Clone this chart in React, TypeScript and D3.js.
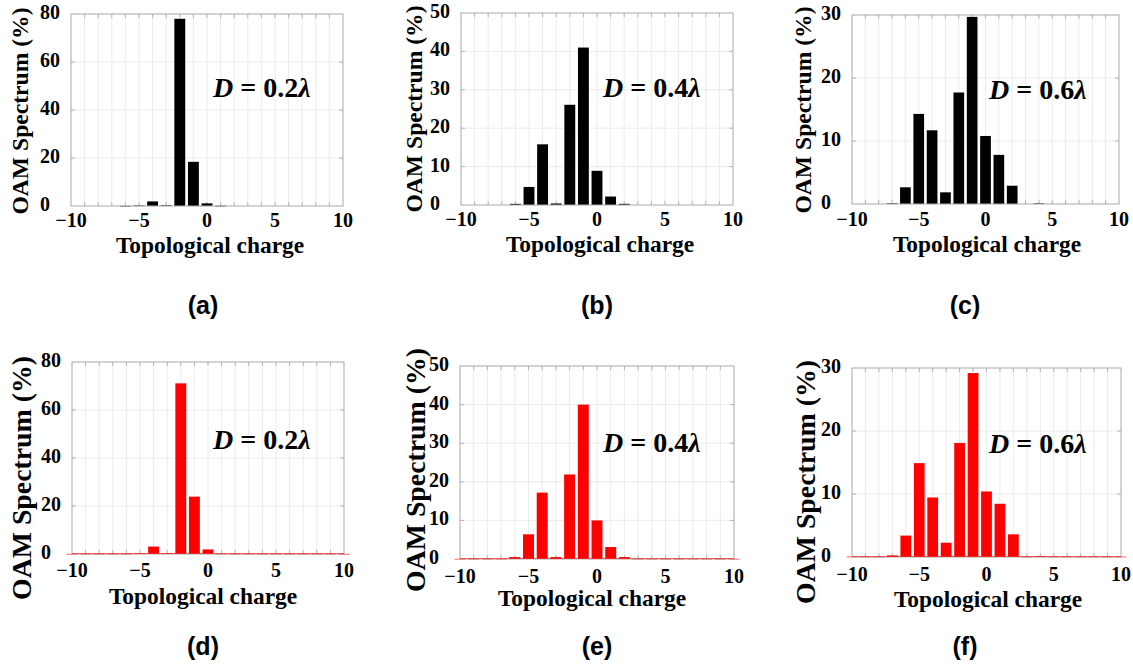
import React from "react";
import * as d3 from "d3";

// Topological charges shared by every spectrum
const CHARGES = [-10, -9, -8, -7, -6, -5, -4, -3, -2, -1, 0, 1, 2, 3, 4, 5, 6, 7, 8, 9, 10];

// OAM spectrum (%) per charge, first row (black) and second row (red)
const SPECTRUM_A = [0, 0, 0, 0, 0.05, 0.2, 1.9, 0.3, 78, 18.4, 1.1, 0.1, 0, 0, 0, 0, 0, 0, 0, 0, 0];
const SPECTRUM_B = [0, 0, 0, 0, 0.3, 4.7, 15.8, 0.4, 26.1, 41, 8.9, 2.2, 0.3, 0, 0, 0, 0, 0, 0, 0, 0];
const SPECTRUM_C = [0, 0, 0, 0.1, 2.65, 14.3, 11.7, 1.85, 17.7, 29.7, 10.8, 7.8, 2.9, 0, 0.1, 0, 0, 0, 0, 0, 0];
const SPECTRUM_D = [0.05, 0.05, 0.05, 0.05, 0.05, 0.2, 3.1, 0.3, 71.1, 23.9, 1.9, 0.1, 0.05, 0.05, 0.05, 0.05, 0.05, 0.05, 0.05, 0.05, 0.05];
const SPECTRUM_E = [0.05, 0.05, 0.05, 0.05, 0.5, 6.4, 17.2, 0.5, 21.9, 40, 10, 3.1, 0.5, 0.05, 0.05, 0.05, 0.05, 0.05, 0.05, 0.05, 0.05];
const SPECTRUM_F = [0.05, 0.05, 0.05, 0.26, 3.4, 14.9, 9.45, 2.27, 18.1, 29.2, 10.4, 8.45, 3.6, 0.05, 0.15, 0.05, 0.05, 0.05, 0.05, 0.05, 0.05];

const X_TICKS = [-10, -5, 0, 5, 10];
const Y_TICKS_80 = [0, 20, 40, 60, 80];
const Y_TICKS_50 = [0, 10, 20, 30, 40, 50];
const Y_TICKS_30 = [0, 10, 20, 30];

const D_VALUES = ["0.2", "0.4", "0.6"];
const TAGS = ["(a)", "(b)", "(c)", "(d)", "(e)", "(f)"];
const X_TITLE = "Topological charge";
const Y_TITLE = "OAM Spectrum (%)";

const SERIF = "'Liberation Serif', 'Times New Roman', Times, serif";
const SANS = "'Liberation Sans', Arial, Helvetica, sans-serif";

type Frame = {
  L: number; R: number; T: number; B: number;
  tickDy: number;
  xTitleX: number; xTitleY: number;
  yTitleX: number; yTitleY: number; yTitleSize: number;
  dX: number; dY: number;
  tagX: number; tagY: number;
};

type PanelProps = {
  frame: Frame;
  values: number[];
  color: string;
  yTicks: number[];
  dValue: string;
  tag: string;
  baseline: boolean;
};

function Panel({ frame, values, color, yTicks, dValue, tag, baseline }: PanelProps) {
  const { L, R, T, B } = frame;
  const x = d3.scaleLinear().domain([-10, 10]).range([L, R]);
  const y = d3.scaleLinear().domain([0, yTicks[yTicks.length - 1]]).range([B, T]);
  const unit = x(1) - x(0);
  const barW = unit * 0.8;
  const minor = CHARGES.filter((c) => c > -10 && c < 10);

  return (
    <g>
      <rect x={L} y={T} width={R - L} height={B - T} fill="#ffffff" />
      {/* grid */}
      {minor.map((c) => (
        <line key={"gx" + c} x1={x(c)} x2={x(c)} y1={T} y2={B} stroke="#ececec" strokeWidth={1} />
      ))}
      {yTicks.slice(1, -1).map((v) => (
        <line key={"gy" + v} x1={L} x2={R} y1={y(v)} y2={y(v)} stroke="#ececec" strokeWidth={1} />
      ))}
      {/* minor ticks along top and bottom */}
      {minor.map((c) => (
        <g key={"t" + c}>
          <line x1={x(c)} x2={x(c)} y1={T} y2={T + 4} stroke="#b5b5b5" strokeWidth={1} />
          <line x1={x(c)} x2={x(c)} y1={B} y2={B - 4} stroke="#b5b5b5" strokeWidth={1} />
        </g>
      ))}
      {yTicks.slice(1, -1).map((v) => (
        <g key={"ty" + v}>
          <line x1={L} x2={L + 4} y1={y(v)} y2={y(v)} stroke="#b5b5b5" strokeWidth={1} />
          <line x1={R} x2={R - 4} y1={y(v)} y2={y(v)} stroke="#b5b5b5" strokeWidth={1} />
        </g>
      ))}
      {/* bars */}
      {CHARGES.map((c, i) => {
        const v = values[i];
        if (v <= 0) return null;
        const top = y(v);
        return (
          <rect
            key={"b" + c}
            x={x(c) - barW / 2}
            y={top}
            width={barW}
            height={Math.max(B - top, 0.6)}
            fill={color}
          />
        );
      })}
      {/* axes box */}
      <rect x={L} y={T} width={R - L} height={B - T} fill="none" stroke="#a8a8a8" strokeWidth={1} />
      {baseline && (
        <line x1={L} x2={R} y1={B - 0.5} y2={B - 0.5} stroke={color} strokeOpacity={0.55} strokeWidth={1} />
      )}
      {/* tick labels */}
      {X_TICKS.map((t) => (
        <text
          key={"xl" + t}
          x={x(t)}
          y={B + frame.tickDy}
          textAnchor="middle"
          fontFamily={SERIF}
          fontWeight="bold"
          fontSize={20}
          fill="#000"
        >
          {t < 0 ? "\u2212" + Math.abs(t) : String(t)}
        </text>
      ))}
      {yTicks.map((t) => (
        <text
          key={"yl" + t}
          x={L - 31}
          y={y(t) + 5}
          textAnchor="start"
          fontFamily={SERIF}
          fontWeight="bold"
          fontSize={20}
          fill="#000"
        >
          {t}
        </text>
      ))}
      {/* axis titles */}
      <text
        x={frame.xTitleX}
        y={frame.xTitleY}
        textAnchor="middle"
        fontFamily={SERIF}
        fontWeight="bold"
        fontSize={23.4}
        fill="#000"
      >
        {X_TITLE}
      </text>
      <text
        transform={`translate(${frame.yTitleX},${frame.yTitleY}) rotate(-90)`}
        textAnchor="middle"
        dominantBaseline="central"
        fontFamily={SERIF}
        fontWeight="bold"
        fontSize={frame.yTitleSize}
        fill="#000"
      >
        {Y_TITLE}
      </text>
      {/* aperture annotation */}
      <text x={frame.dX} y={frame.dY} fontFamily={SERIF} fontWeight="bold" fontSize={28} fill="#000">
        <tspan fontStyle="italic">D</tspan>
        <tspan>{"\u00A0=\u00A0" + dValue}</tspan>
        <tspan fontStyle="italic">{"\u03BB"}</tspan>
      </text>
      {/* panel tag */}
      <text
        x={frame.tagX}
        y={frame.tagY}
        textAnchor="middle"
        fontFamily={SANS}
        fontWeight="bold"
        fontSize={25}
        fill="#000"
      >
        {tag}
      </text>
    </g>
  );
}

const FRAMES: Frame[] = [
  { L: 71, R: 343, T: 14, B: 206, tickDy: 21, xTitleX: 210, xTitleY: 253, yTitleX: 20, yTitleY: 111, yTitleSize: 23.6, dX: 213, dY: 97, tagX: 203, tagY: 314 },
  { L: 461, R: 733, T: 13, B: 205, tickDy: 21, xTitleX: 600, xTitleY: 252, yTitleX: 414, yTitleY: 109, yTitleSize: 23.6, dX: 603, dY: 97, tagX: 597, tagY: 314 },
  { L: 852, R: 1119, T: 15, B: 204, tickDy: 22, xTitleX: 987, xTitleY: 252, yTitleX: 803, yTitleY: 110, yTitleSize: 23.6, dX: 989, dY: 99, tagX: 965, tagY: 314 },
  { L: 72, R: 344, T: 362, B: 554, tickDy: 23, xTitleX: 203, xTitleY: 604, yTitleX: 21, yTitleY: 478, yTitleSize: 27.8, dX: 213, dY: 449, tagX: 203, tagY: 655 },
  { L: 460, R: 734, T: 366, B: 559, tickDy: 24, xTitleX: 592, xTitleY: 606, yTitleX: 415, yTitleY: 470, yTitleSize: 27.8, dX: 603, dY: 452, tagX: 597, tagY: 655 },
  { L: 852, R: 1121, T: 368, B: 557, tickDy: 24, xTitleX: 988, xTitleY: 607, yTitleX: 805, yTitleY: 482, yTitleSize: 27.8, dX: 989, dY: 453, tagX: 965, tagY: 655 },
];

export default function App() {
  const series = [SPECTRUM_A, SPECTRUM_B, SPECTRUM_C, SPECTRUM_D, SPECTRUM_E, SPECTRUM_F];
  const ticks = [Y_TICKS_80, Y_TICKS_50, Y_TICKS_30];
  return (
    <svg
      width={1133}
      height={667}
      viewBox="0 0 1133 667"
      style={{ position: "fixed", left: 0, top: 0, background: "#ffffff" }}
    >
      <rect x={0} y={0} width={1133} height={667} fill="#ffffff" />
      {FRAMES.map((f, i) => (
        <Panel
          key={TAGS[i]}
          frame={f}
          values={series[i]}
          color={i < 3 ? "#000000" : "#ff0000"}
          yTicks={ticks[i % 3]}
          dValue={D_VALUES[i % 3]}
          tag={TAGS[i]}
          baseline={i >= 3}
        />
      ))}
    </svg>
  );
}
